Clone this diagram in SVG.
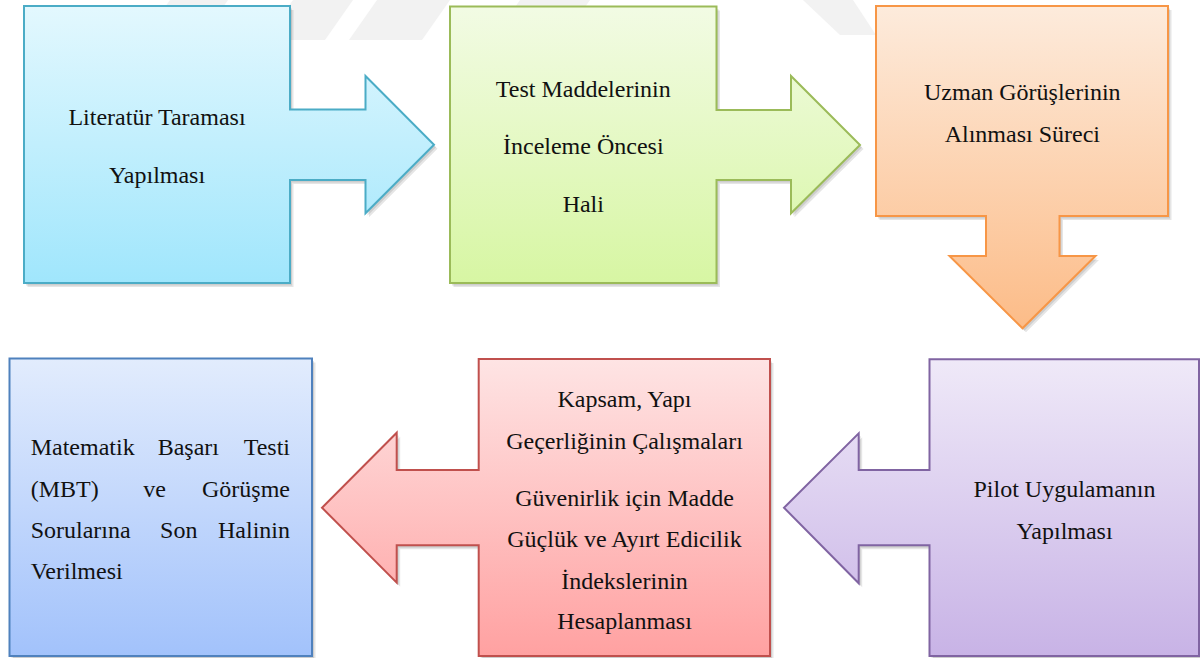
<svg xmlns="http://www.w3.org/2000/svg" width="1200" height="658" viewBox="0 0 1200 658">
<defs>
<linearGradient id="g1" x1="0" y1="0" x2="0" y2="1"><stop offset="0" stop-color="#e3f8fe"/><stop offset="1" stop-color="#a0e6fc"/></linearGradient>
<linearGradient id="g2" x1="0" y1="0" x2="0" y2="1"><stop offset="0" stop-color="#f2fbe4"/><stop offset="1" stop-color="#d7f6a3"/></linearGradient>
<linearGradient id="g3" x1="0" y1="0" x2="0" y2="1"><stop offset="0" stop-color="#fdebdc"/><stop offset="1" stop-color="#fcbc88"/></linearGradient>
<linearGradient id="g4" x1="0" y1="0" x2="0" y2="1"><stop offset="0" stop-color="#efe9f8"/><stop offset="1" stop-color="#c8b3e6"/></linearGradient>
<linearGradient id="g5" x1="0" y1="0" x2="0" y2="1"><stop offset="0" stop-color="#fee4e4"/><stop offset="1" stop-color="#ffa1a1"/></linearGradient>
<linearGradient id="g6" x1="0" y1="0" x2="0" y2="1"><stop offset="0" stop-color="#e2ecfd"/><stop offset="1" stop-color="#a2c2fb"/></linearGradient>
</defs>
<rect width="1200" height="658" fill="#ffffff"/>
<g id="watermark" fill="#f2f2f2">
<polygon points="170,0 228,0 200,40 142,40"/>
<polygon points="293,0 353,0 325,40 265,40"/>
<polygon points="377,0 450,0 422,40 349,40"/>
<polygon points="520,0 590,0 562,40 492,40"/>
<polygon points="803,0 853,0 876,35 840,35"/>
</g>
<g id="connectors"></g>
<g id="n1">
<path fill="#000" fill-opacity="0.1" transform="translate(3.5,4)" d="M24,6 H290 V109.5 H365.5 V76 L434,144.7 L365.5,213.3 V180 H290 V283 H24 Z"/>
<path fill="#000" fill-opacity="0.1" transform="translate(2,2.5)" d="M24,6 H290 V109.5 H365.5 V76 L434,144.7 L365.5,213.3 V180 H290 V283 H24 Z"/>
<path stroke-width="2" fill="url(#g1)" stroke="#4bacc6" d="M24,6 H290 V109.5 H365.5 V76 L434,144.7 L365.5,213.3 V180 H290 V283 H24 Z"/>
<text style="font-family:'Liberation Serif';font-size:24px;fill:#111;text-anchor:middle" x="157" y="125">Literatür Taraması</text>
<text style="font-family:'Liberation Serif';font-size:24px;fill:#111;text-anchor:middle" x="157" y="182.7">Yapılması</text>
</g>
<g id="n2">
<path fill="#000" fill-opacity="0.1" transform="translate(3.5,4)" d="M450,6.5 H716.5 V110 H791 V76 L860,145 L791,213.3 V180 H716.5 V283 H450 Z"/>
<path fill="#000" fill-opacity="0.1" transform="translate(2,2.5)" d="M450,6.5 H716.5 V110 H791 V76 L860,145 L791,213.3 V180 H716.5 V283 H450 Z"/>
<path stroke-width="2" fill="url(#g2)" stroke="#9bbb59" d="M450,6.5 H716.5 V110 H791 V76 L860,145 L791,213.3 V180 H716.5 V283 H450 Z"/>
<text style="font-family:'Liberation Serif';font-size:24px;fill:#111;text-anchor:middle" x="583.3" y="96.7">Test Maddelerinin</text>
<text style="font-family:'Liberation Serif';font-size:24px;fill:#111;text-anchor:middle" x="583.3" y="154">İnceleme Öncesi</text>
<text style="font-family:'Liberation Serif';font-size:24px;fill:#111;text-anchor:middle" x="583.3" y="211.7">Hali</text>
</g>
<g id="n3">
<path fill="#000" fill-opacity="0.1" transform="translate(3.5,4)" d="M876,6 H1168 V216 H1059.5 V256 H1095.5 L1022.5,328.3 L949.5,256 H986 V216 H876 Z"/>
<path fill="#000" fill-opacity="0.1" transform="translate(2,2.5)" d="M876,6 H1168 V216 H1059.5 V256 H1095.5 L1022.5,328.3 L949.5,256 H986 V216 H876 Z"/>
<path stroke-width="2" fill="url(#g3)" stroke="#f79646" d="M876,6 H1168 V216 H1059.5 V256 H1095.5 L1022.5,328.3 L949.5,256 H986 V216 H876 Z"/>
<text style="font-family:'Liberation Serif';font-size:24px;fill:#111;text-anchor:middle" x="1022.3" y="100">Uzman Görüşlerinin</text>
<text style="font-family:'Liberation Serif';font-size:24px;fill:#111;text-anchor:middle" x="1022.3" y="141.7">Alınması Süreci</text>
</g>
<g id="n4">
<path fill="#000" fill-opacity="0.1" transform="translate(3.5,4)" d="M929.5,359.3 H1199 V656 H929.5 V545.3 H858.7 V583.3 L784,507.7 L858.7,433.3 V470 H929.5 Z"/>
<path fill="#000" fill-opacity="0.1" transform="translate(2,2.5)" d="M929.5,359.3 H1199 V656 H929.5 V545.3 H858.7 V583.3 L784,507.7 L858.7,433.3 V470 H929.5 Z"/>
<path stroke-width="2" fill="url(#g4)" stroke="#8064a2" d="M929.5,359.3 H1199 V656 H929.5 V545.3 H858.7 V583.3 L784,507.7 L858.7,433.3 V470 H929.5 Z"/>
<text style="font-family:'Liberation Serif';font-size:24px;fill:#111;text-anchor:middle" x="1064.5" y="496.7">Pilot Uygulamanın</text>
<text style="font-family:'Liberation Serif';font-size:24px;fill:#111;text-anchor:middle" x="1064.5" y="539">Yapılması</text>
</g>
<g id="n5">
<path fill="#000" fill-opacity="0.1" transform="translate(3.5,4)" d="M478.7,359 H770 V656 H478.7 V545.3 H396.7 V582.7 L322,507.7 L396.7,432.7 V470 H478.7 Z"/>
<path fill="#000" fill-opacity="0.1" transform="translate(2,2.5)" d="M478.7,359 H770 V656 H478.7 V545.3 H396.7 V582.7 L322,507.7 L396.7,432.7 V470 H478.7 Z"/>
<path stroke-width="2" fill="url(#g5)" stroke="#c0504d" d="M478.7,359 H770 V656 H478.7 V545.3 H396.7 V582.7 L322,507.7 L396.7,432.7 V470 H478.7 Z"/>
<text style="font-family:'Liberation Serif';font-size:24px;fill:#111;text-anchor:middle" x="624.5" y="406.7">Kapsam, Yapı</text>
<text style="font-family:'Liberation Serif';font-size:24px;fill:#111;text-anchor:middle" x="624.5" y="449.3">Geçerliğinin Çalışmaları</text>
<text style="font-family:'Liberation Serif';font-size:24px;fill:#111;text-anchor:middle" x="624.5" y="505.7">Güvenirlik için Madde</text>
<text style="font-family:'Liberation Serif';font-size:24px;fill:#111;text-anchor:middle" x="624.5" y="546.7">Güçlük ve Ayırt Edicilik</text>
<text style="font-family:'Liberation Serif';font-size:24px;fill:#111;text-anchor:middle" x="624.5" y="589">İndekslerinin</text>
<text style="font-family:'Liberation Serif';font-size:24px;fill:#111;text-anchor:middle" x="624.5" y="629.3">Hesaplanması</text>
</g>
<g id="n6">
<rect fill="#000" fill-opacity="0.1" x="13" y="362.5" width="302.5" height="297.5"/>
<rect fill="#000" fill-opacity="0.1" x="11.5" y="361" width="302.5" height="297.5"/>
<rect stroke-width="2" fill="url(#g6)" stroke="#4f81bd" x="9.5" y="358.5" width="302.5" height="297.5"/>
<text style="font-family:'Liberation Serif';font-size:24px;fill:#111" x="30.7" y="455">Matematik</text>
<text style="font-family:'Liberation Serif';font-size:24px;fill:#111;text-anchor:middle" x="188.3" y="455">Başarı</text>
<text style="font-family:'Liberation Serif';font-size:24px;fill:#111;text-anchor:end" x="290" y="455">Testi</text>
<text style="font-family:'Liberation Serif';font-size:24px;fill:#111" x="30.7" y="496.7">(MBT)</text>
<text style="font-family:'Liberation Serif';font-size:24px;fill:#111;text-anchor:middle" x="154.7" y="496.7">ve</text>
<text style="font-family:'Liberation Serif';font-size:24px;fill:#111;text-anchor:end" x="290" y="496.7">Görüşme</text>
<text style="font-family:'Liberation Serif';font-size:24px;fill:#111" x="30.7" y="538.3">Sorularına</text>
<text style="font-family:'Liberation Serif';font-size:24px;fill:#111;text-anchor:middle" x="178.8" y="538.3">Son</text>
<text style="font-family:'Liberation Serif';font-size:24px;fill:#111;text-anchor:end" x="290" y="538.3">Halinin</text>
<text style="font-family:'Liberation Serif';font-size:24px;fill:#111" x="30.7" y="579.3">Verilmesi</text>
</g>
</svg>
